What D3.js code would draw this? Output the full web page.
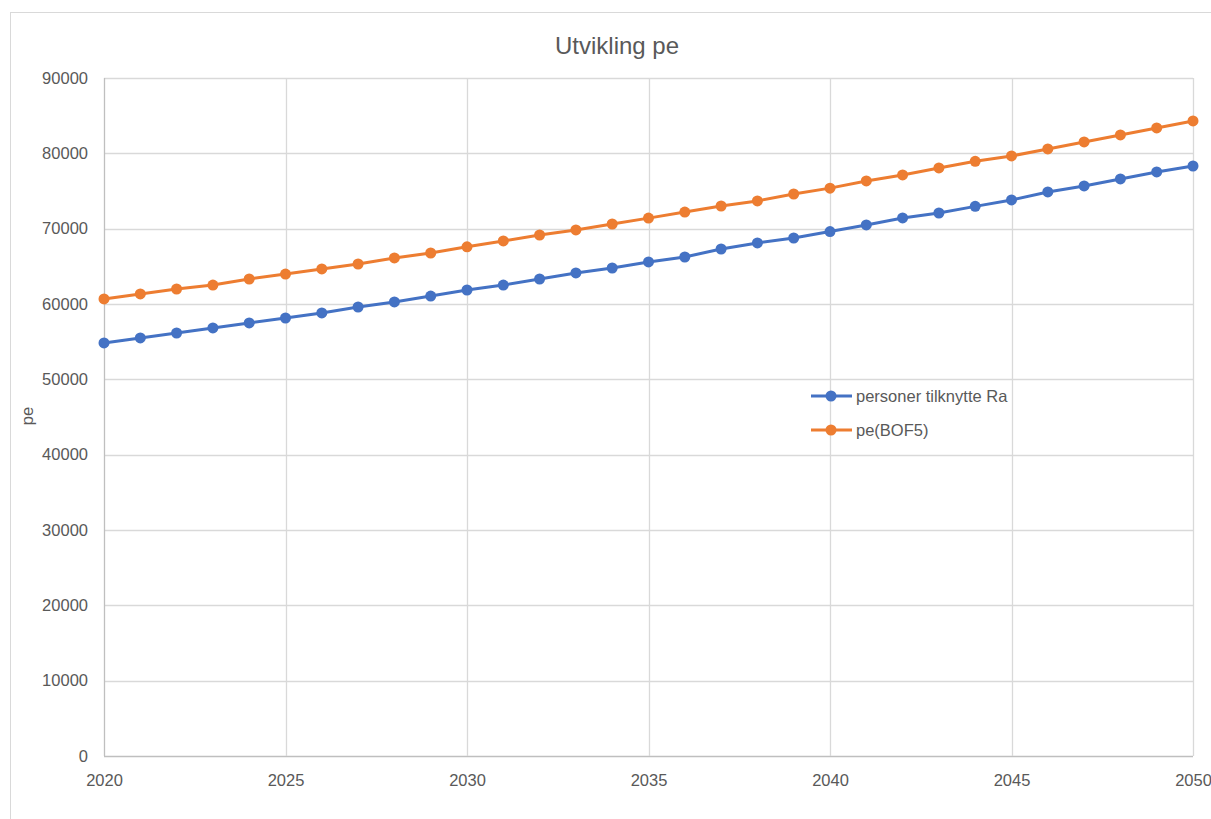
<!DOCTYPE html>
<html>
<head>
<meta charset="utf-8">
<script src="https://cdn.jsdelivr.net/npm/d3@7"></script>
<style>
  body { margin: 0; background: #fff; }
  svg text { font-family: "Liberation Sans", "DejaVu Sans", sans-serif; fill: #595959; }
</style>
</head>
<body>
<div id="chart"></div>
<script>
//Datos
const years = d3.range(2020, 2051);
const seriesNames = ['personer tilknytte Ra', 'pe(BOF5)'];
const personer = [54830, 55490, 56150, 56820, 57480, 58140, 58810, 59600, 60270, 61060,
    61860, 62520, 63320, 64120, 64780, 65580, 66240, 67300, 68100, 68760,
    69620, 70490, 71420, 72080, 72960, 73810, 74870, 75670, 76600, 77530, 78320];
const peBof5 = [60670, 61330, 61990, 62520, 63320, 63980, 64650, 65310, 66110, 66770,
    67590, 68370, 69160, 69830, 70620, 71400, 72210, 73010, 73680, 74600,
    75380, 76330, 77130, 78060, 78940, 79650, 80580, 81510, 82440, 83370, 84300];
const yTicks = [0, 10000, 20000, 30000, 40000, 50000, 60000, 70000, 80000, 90000];
const xTicks = [2020, 2025, 2030, 2035, 2040, 2045, 2050];

//Colores fijos
const COLOR_BLUE = '#4472C4',
    COLOR_ORANGE = '#ED7D31',
    COLOR_GRID = '#d9d9d9';

let W = 1211, H = 819;
let margin = {top: 78, right: 18, bottom: 63, left: 104},
    width = W - margin.left - margin.right,
    height = H - margin.top - margin.bottom;

let svg = d3.select('#chart').append('svg')
    .attr('width', W)
    .attr('height', H);

//Marco exterior
svg.append('rect')
    .attr('x', 10.5).attr('y', 12.5)
    .attr('width', 1230).attr('height', 830)
    .attr('fill', 'none')
    .attr('stroke', COLOR_GRID);

svg.append('text')
    .attr('x', 617).attr('y', 54)
    .attr('text-anchor', 'middle')
    .style('font-size', '24px')
    .text('Utvikling pe');

let chart = svg.append('g')
    .attr('transform', 'translate(' + margin.left + ',' + margin.top + ')');

//Escalas
let x = d3.scaleLinear().domain([2020, 2050]).range([0, width]);
let y = d3.scaleLinear().domain([0, 90000]).range([height, 0]);

//Rejilla
chart.append('g')
    .selectAll('line.h')
    .data(yTicks)
    .join('line')
      .attr('x1', 0).attr('x2', width)
      .attr('y1', d => Math.round(y(d)) + 0.5).attr('y2', d => Math.round(y(d)) + 0.5)
      .attr('stroke', d => d === 0 ? '#bfbfbf' : COLOR_GRID)
      .attr('stroke-width', 1.3);

chart.append('g')
    .selectAll('line.v')
    .data(xTicks)
    .join('line')
      .attr('y1', 0).attr('y2', height)
      .attr('x1', d => Math.round(x(d)) + 0.5).attr('x2', d => Math.round(x(d)) + 0.5)
      .attr('stroke', d => d === 2020 ? '#bfbfbf' : COLOR_GRID)
      .attr('stroke-width', 1.3);

//Ejes
let yAxis = d3.axisLeft(y).tickValues(yTicks).tickSize(0).tickPadding(16).tickFormat(d3.format('d'));
let gy = chart.append('g').call(yAxis);
gy.select('.domain').remove();
gy.selectAll('text').style('font-size', '16.5px').attr('fill', '#595959');

let xAxis = d3.axisBottom(x).tickValues(xTicks).tickSize(0).tickPadding(18).tickFormat(d3.format('d'));
let gx = chart.append('g')
    .attr('transform', 'translate(0,' + height + ')')
    .call(xAxis);
gx.select('.domain').remove();
gx.selectAll('text').style('font-size', '16.5px').attr('fill', '#595959');

svg.append('text')
    .attr('transform', 'translate(33,416) rotate(-90)')
    .attr('text-anchor', 'middle')
    .style('font-size', '16.5px')
    .text('pe');

//Series
let series = [
    {name: seriesNames[0], values: personer, color: COLOR_BLUE},
    {name: seriesNames[1], values: peBof5, color: COLOR_ORANGE}
];

let line = d3.line()
    .x((d, i) => x(years[i]))
    .y(d => y(d));

series.forEach(function(s) {
    chart.append('path')
        .datum(s.values)
        .attr('fill', 'none')
        .attr('stroke', s.color)
        .attr('stroke-width', 3)
        .attr('d', line);

    chart.append('g')
        .selectAll('circle')
        .data(s.values)
        .join('circle')
          .attr('cx', (d, i) => x(years[i]))
          .attr('cy', d => y(d))
          .attr('r', 5.5)
          .attr('fill', s.color);
});

//Leyenda
let legend = svg.append('g').attr('transform', 'translate(811,396)');
series.forEach(function(s, i) {
    let g = legend.append('g').attr('transform', 'translate(0,' + (i * 34) + ')');
    g.append('line')
        .attr('x1', 0).attr('x2', 41)
        .attr('stroke', s.color).attr('stroke-width', 3);
    g.append('circle')
        .attr('cx', 20).attr('r', 5.5).attr('fill', s.color);
    g.append('text')
        .attr('x', 45).attr('dy', '0.35em')
        .style('font-size', '16.5px')
        .text(s.name);
});
</script>
</body>
</html>
